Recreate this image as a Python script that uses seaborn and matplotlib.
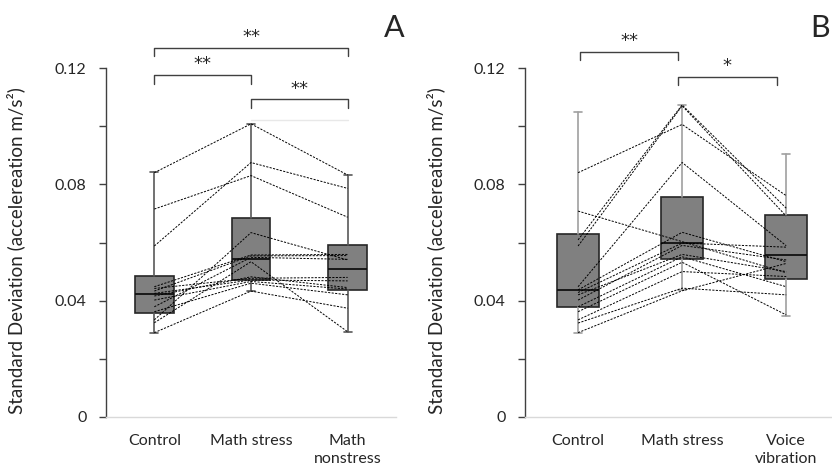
import numpy as np
import pandas as pd
import matplotlib
matplotlib.use("Agg")
import matplotlib.pyplot as plt
import seaborn as sns

sns.set_style("ticks")
plt.rcParams["font.family"] = ["Lato", "DejaVu Sans"]

# ---- data ----
labels_a = ["Control", "Math stress", "Math\nnonstress"]
labels_b = ["Control", "Math stress", "Voice\nvibration"]

# box summaries: min, q1, median, q3, max
box_a = [
    [0.0289, 0.0358, 0.0423, 0.0485, 0.0842],
    [0.0433, 0.0471, 0.0543, 0.0684, 0.1008],
    [0.0292, 0.0437, 0.0509, 0.0591, 0.0832],
]
box_b = [
    [0.0288, 0.0377, 0.0437, 0.0629, 0.1048],
    [0.0437, 0.0543, 0.0599, 0.0755, 0.1073],
    [0.0348, 0.0473, 0.0557, 0.0695, 0.0905],
]

# individual subjects (one value per condition)
ctrl_a = [0.0840, 0.0715, 0.0588, 0.0448, 0.0442, 0.0433, 0.0425,
          0.0416, 0.0402, 0.0379, 0.0362, 0.0334, 0.0324, 0.0290]
stress_a = [0.1008, 0.0830, 0.0875, 0.0557, 0.0477, 0.0554, 0.0471,
            0.0482, 0.0466, 0.0549, 0.0460, 0.0634, 0.0534, 0.0433]
nonstress_a = [0.0832, 0.0687, 0.0786, 0.0559, 0.0480, 0.0555, 0.0468,
               0.0445, 0.0440, 0.0542, 0.0420, 0.0540, 0.0293, 0.0374]

ctrl_b = [0.0840, 0.0609, 0.0588, 0.0708, 0.0448, 0.0437, 0.0428,
          0.0420, 0.0402, 0.0379, 0.0362, 0.0334, 0.0323, 0.0290]
stress_b = [0.1006, 0.1073, 0.1070, 0.0603, 0.0875, 0.0635, 0.0598,
            0.0559, 0.0590, 0.0551, 0.0532, 0.0500, 0.0443, 0.0434]
voice_b = [0.0761, 0.0718, 0.0691, 0.0496, 0.0589, 0.0534, 0.0584,
           0.0500, 0.0540, 0.0448, 0.0351, 0.0483, 0.0420, 0.0528]

# significance brackets: (x1, x2, y, label)
sig_a = [(0, 2, 0.1270, "**"), (0, 1, 0.1176, "**"), (1, 2, 0.1092, "**")]
sig_b = [(0.02, 0.96, 0.1256, "**"), (0.96, 1.91, 0.1170, "*")]


def long_table(cols):
    rows = []
    for pos, vals in enumerate(cols):
        for subj, v in enumerate(vals):
            rows.append({"subject": subj, "pos": pos, "value": v})
    return pd.DataFrame(rows)


def draw_panel(ax, boxes, subjects, labels, sigs, whisker_color, xlim, label_x):
    stats = []
    for b in boxes:
        stats.append({"whislo": b[0], "q1": b[1], "med": b[2], "q3": b[3],
                      "whishi": b[4], "fliers": []})
    ax.bxp(stats, positions=[0, 1, 2], widths=0.4, patch_artist=True,
           showfliers=False, capwidths=0.08,
           boxprops=dict(facecolor="#808080", edgecolor="#262626", lw=1.2),
           medianprops=dict(color="#111111", lw=1.3),
           whiskerprops=dict(color=whisker_color, lw=1.2),
           capprops=dict(color=whisker_color, lw=1.2))

    df = long_table(subjects)
    sns.lineplot(data=df, x="pos", y="value", units="subject", estimator=None,
                 color="black", lw=0.7, ls=(0, (2.2, 1.4)), ax=ax, zorder=3,
                 legend=False)

    for x1, x2, y, txt in sigs:
        ax.plot([x1, x1, x2, x2], [y - 0.0030, y, y, y - 0.0030],
                color="#404040", lw=1.0, clip_on=False)
        ax.text((x1 + x2) / 2, y + 0.0006, txt, ha="center", va="bottom",
                fontsize=13, family="DejaVu Sans", clip_on=False)

    ax.set_xlim(*xlim)
    ax.set_ylim(0, 0.12)
    ax.set_yticks([0, 0.02, 0.04, 0.06, 0.08, 0.10, 0.12])
    ax.set_yticklabels(["0", "", "0.04", "", "0.08", "", "0.12"], fontsize=11.5)
    ax.set_xticks([0, 1, 2])
    ax.set_xticklabels(labels, fontsize=11.5, linespacing=1.35)
    ax.tick_params(axis="x", length=0, pad=12)
    ax.tick_params(axis="y", length=5, width=1, color="#404040", pad=9)
    ax.set_xlabel("")
    ax.set_ylabel("Standard Deviation (accelereation m/s\u00b2)", fontsize=13.5)
    ax.yaxis.set_label_coords(label_x, 0.476)
    for s in ["top", "right"]:
        ax.spines[s].set_visible(False)
    ax.spines["left"].set_color("#404040")
    ax.spines["left"].set_linewidth(1)
    ax.spines["bottom"].set_color("#d9d9d9")
    ax.spines["bottom"].set_linewidth(1)


fig = plt.figure(figsize=(8.32, 4.72), dpi=100)
ax_a = fig.add_axes([106 / 832, 55 / 472, 290 / 832, 349 / 472])
ax_b = fig.add_axes([525 / 832, 55 / 472, 307 / 832, 349 / 472])

draw_panel(ax_a, box_a, [ctrl_a, stress_a, nonstress_a], labels_a, sig_a,
           "#595959", (-0.5, 2.5), -0.279)
# faint guide line left in the original
ax_a.plot([1, 2], [0.1021, 0.1021], color="#e8e8e8", lw=1, zorder=1)

draw_panel(ax_b, box_b, [ctrl_b, stress_b, voice_b], labels_b, sig_b,
           "#a0a0a0", (-0.51, 2.44), -0.26)

fig.text(394 / 832, 1 - 28 / 472, "A", fontsize=22, ha="center", va="center")
fig.text(830 / 832, 1 - 28 / 472, "B", fontsize=22, ha="right", va="center")

fig.savefig("out.png", dpi=100)
